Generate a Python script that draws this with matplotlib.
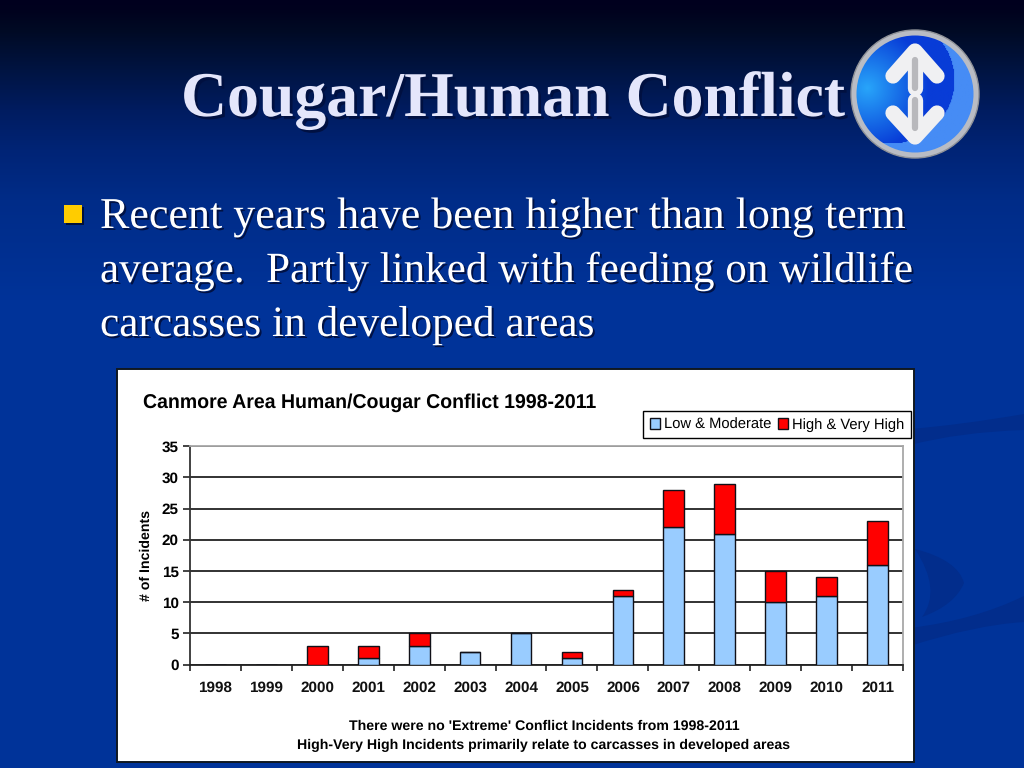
import numpy as np
import matplotlib
matplotlib.use('Agg')
import matplotlib.pyplot as plt
import matplotlib.patheffects as pe
from matplotlib.patches import Circle, Rectangle, PathPatch
from matplotlib.path import Path

years = ['1998', '1999', '2000', '2001', '2002', '2003', '2004', '2005', '2006', '2007', '2008', '2009', '2010', '2011']
low_moderate = [0, 0, 0, 1, 3, 2, 5, 1, 11, 22, 21, 10, 11, 16]
high_very_high = [0, 0, 3, 2, 2, 0, 0, 1, 1, 6, 8, 5, 3, 7]
y_ticks = [0, 5, 10, 15, 20, 25, 30, 35]

slide_title = 'Cougar/Human Conflict'
bullet_lines = ['Recent years have been higher than long term',
                'average.  Partly linked with feeding on wildlife',
                'carcasses in developed areas']
chart_title = 'Canmore Area Human/Cougar Conflict 1998-2011'
note_1 = "There were no 'Extreme' Conflict Incidents from 1998-2011"
note_2 = 'High-Very High Incidents primarily relate to carcasses in developed areas'

W, H = 1024, 768
plt.rcParams['font.family'] = ['Liberation Sans', 'DejaVu Sans']
plt.rcParams['text.hinting'] = 'none'
fig = plt.figure(figsize=(W / 100, H / 100), dpi=100)


def ax_box(x0, y0, x1, y1):
    # pixel box (y from the top) to figure fractions
    return [x0 / W, 1 - y1 / H, (x1 - x0) / W, (y1 - y0) / H]


# slide background, everything here is in pixels
bg = fig.add_axes([0, 0, 1, 1])
bg.set_xlim(0, W)
bg.set_ylim(H, 0)
bg.axis('off')

stops_y = [0, 10, 30, 70, 110, 150, 200, 300, 768]
stops_c = np.array([[0, 0, 30], [0, 2, 30], [0, 10, 36], [0, 20, 66], [0, 28, 96],
                    [0, 36, 118], [0, 44, 136], [0, 51, 153], [0, 51, 153]]) / 255
rows = np.arange(H)
grad = np.stack([np.interp(rows, stops_y, stops_c[:, i]) for i in range(3)], axis=1)[:, None, :]
bg.imshow(grad, extent=[0, W, H, 0], aspect='auto', zorder=0)

# faint swooshes at lower right
swoosh = '#022d8c'
C3 = Path.CURVE3
for verts, codes in [
    ([(910, 429), (960, 425), (1024, 414), (1024, 430), (960, 432), (910, 445), (910, 429)],
     [Path.MOVETO, C3, C3, Path.LINETO, C3, C3, Path.CLOSEPOLY]),
    ([(910, 628), (975, 620), (1024, 596), (1024, 622), (975, 625), (910, 646), (910, 628)],
     [Path.MOVETO, C3, C3, Path.LINETO, C3, C3, Path.CLOSEPOLY]),
    ([(915, 549), (958, 560), (964, 583), (955, 605), (922, 617), (942, 590), (915, 549)],
     [Path.MOVETO, C3, C3, C3, C3, C3, C3]),
]:
    bg.add_patch(PathPatch(Path(verts, codes), fc=swoosh, ec='none', zorder=1))


def shadow_text(x, y, s, size, color, weight='normal', off=2.0):
    bg.text(x, y, s, fontsize=size, color=color, family='Liberation Serif',
            weight=weight, va='baseline', ha='left', zorder=3,
            path_effects=[pe.SimplePatchShadow(offset=(off, -off), shadow_rgbFace='#001040', alpha=0.95),
                          pe.Normal()])


shadow_text(181, 116, slide_title, 45.9, '#e4e6fb', weight='bold', off=2.0)
for yy, size, line in zip([228, 282, 336], [31.7, 31, 31.2], bullet_lines):
    shadow_text(100, yy, line, size, 'white', off=1.4)

# bullet
bg.add_patch(Rectangle((66, 207), 18, 18, fc='#00103c', ec='none', zorder=2))
bg.add_patch(Rectangle((64, 205), 18, 18, fc='#ffcc00', ec='none', zorder=3))

# round icon
cx, cy, r = 915, 94, 64
bg.add_patch(Circle((cx, cy), r, fc='#b9bcc4', ec='#8f9298', lw=1, zorder=4))
ys_i, xs_i = np.mgrid[cy - r:cy + r + 1, cx - r:cx + r + 1]
icon = np.zeros(xs_i.shape + (3,))
icon[...] = np.array([70, 140, 245]) / 255
dark = np.hypot(xs_i - (cx - 24), ys_i - (cy - 14)) < 64
icon[dark] = np.array([8, 60, 215]) / 255
glow = np.clip(1 - np.hypot(xs_i - (cx - 48), ys_i - (cy - 6)) / 62, 0, 1)[..., None]
icon = icon * (1 - glow) + np.array([40, 165, 250]) / 255 * glow
im = bg.imshow(icon, extent=[cx - r, cx + r, cy + r, cy - r], aspect='auto', zorder=5)
im.set_clip_path(Circle((cx, cy), r - 5.5, transform=bg.transData))
bg.set_xlim(0, W)
bg.set_ylim(H, 0)
for xs, ys in [([893, 915, 937], [76, 51, 76]), ([915, 915], [54, 88]),
               ([893, 915, 937], [113, 137, 113]), ([915, 915], [100, 134])]:
    bg.plot(xs, ys, color='#f0f0f2', lw=11, solid_capstyle='round', solid_joinstyle='round', zorder=6)
for xs, ys in [([915, 915], [60, 88]), ([915, 915], [100, 128])]:
    bg.plot(xs, ys, color='#b8b8bc', lw=4.5, solid_capstyle='round', zorder=7)

# white chart panel
bg.add_patch(Rectangle((117, 369), 797, 393, fc='white', ec='#101820', lw=1.4, zorder=8))

# chart
ax = fig.add_axes(ax_box(189.7, 446.3, 903.3, 664.5), zorder=5)
ax.patch.set_alpha(0)
x = np.arange(len(years))
bar_w = 0.41
bars_low = ax.bar(x, low_moderate, bar_w, color='#99ccff', edgecolor='#101018', linewidth=1.0,
                  label='Low & Moderate', zorder=3)
bars_high = ax.bar(x, high_very_high, bar_w, bottom=low_moderate, color='#ff0000', edgecolor='#101018',
                   linewidth=1.0, label='High & Very High', zorder=3)
ax.set_xlim(-0.5, len(years) - 0.5)
ax.set_ylim(0, 35)
ax.set_yticks(y_ticks)
ax.set_xticks(np.arange(len(years) + 1) - 0.5, minor=False)
ax.set_xticklabels([])
ax.set_xticks(x, labels=years, minor=True)
ax.tick_params(axis='x', which='minor', length=0, pad=12, labelsize=11, labelcolor='#111111')
for lab in ax.get_xticklabels(minor=True):
    lab.set_fontweight('bold')
ax.tick_params(axis='x', which='major', length=4.5, width=1.2, color='#222222')
ax.tick_params(axis='y', length=5, width=1.2, color='#222222', pad=3, labelsize=11)
for lab in ax.get_yticklabels():
    lab.set_fontweight('bold')
ax.yaxis.grid(True, color='#222222', lw=1.3, zorder=1)
ax.set_axisbelow(True)
ax.spines['left'].set_color('#333333')
ax.spines['left'].set_linewidth(1.3)
ax.spines['bottom'].set_color('#222222')
ax.spines['bottom'].set_linewidth(1.3)
ax.spines['top'].set_color('#a8a8a8')
ax.spines['top'].set_linewidth(1.3)
ax.spines['right'].set_color('#a8a8a8')
ax.spines['right'].set_linewidth(1.3)
ax.set_ylabel('# of Incidents', fontsize=10.2, fontweight='bold', labelpad=6.5)

fig.text(143 / W, 1 - 403 / H, chart_title, fontsize=14.05, fontweight='bold', color='black', va='center', ha='left', zorder=10)

leg = ax.legend(handles=[bars_low, bars_high], loc='upper right', ncol=2, fontsize=10.6,
                bbox_to_anchor=(911 / W, 1 - 411 / H), bbox_transform=fig.transFigure,
                fancybox=False, framealpha=1, edgecolor='black', borderaxespad=0,
                handlelength=0.72, handleheight=0.72, handletextpad=0.25, columnspacing=0.45,
                borderpad=0.45)
leg.get_frame().set_linewidth(1.0)

fig.text(544.5 / W, 1 - 726 / H, note_1, fontsize=10.17, fontweight='bold', ha='center', va='center', zorder=10)
fig.text(543.5 / W, 1 - 745 / H, note_2, fontsize=10.17, fontweight='bold', ha='center', va='center', zorder=10)

fig.savefig('out.png', dpi=100)
